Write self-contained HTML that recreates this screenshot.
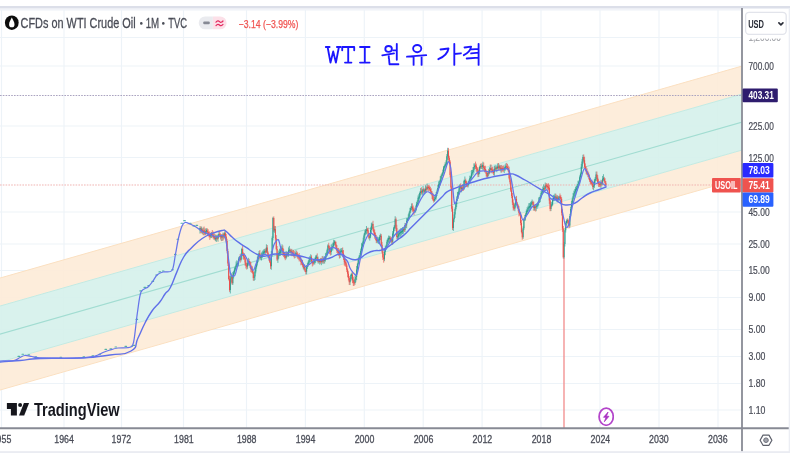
<!DOCTYPE html>
<html><head><meta charset="utf-8"><title>WTI</title>
<style>
html,body{margin:0;padding:0;background:#fff;}
body{width:790px;height:453px;overflow:hidden;font-family:"Liberation Sans",sans-serif;}
svg{display:block;position:absolute;left:0;top:0;}
text{font-family:"Liberation Sans",sans-serif;}
</style></head><body>
<svg width="790" height="453" viewBox="0 0 790 453">
<defs><filter id="soft" x="-2%" y="-2%" width="104%" height="104%"><feGaussianBlur stdDeviation="0.55"/></filter>
<filter id="soft2" x="-2%" y="-2%" width="104%" height="104%"><feGaussianBlur stdDeviation="0.7"/></filter>
<clipPath id="plot"><rect x="0" y="8" width="742" height="420"/></clipPath></defs>
<rect x="0" y="0" width="790" height="453" fill="#fff"/>
<rect x="0" y="6" width="790" height="2.6" fill="#dcdfe9"/>
<rect x="0" y="8.6" width="790" height="2" fill="#f1f3f8"/>
<rect x="0" y="451.2" width="790" height="1.8" fill="#eaecf2"/>
<g filter="url(#soft)">
<g stroke="#edf3f8" stroke-width="1.15" fill="none">
<path d="M1.5,10V428"/>
<path d="M64,10V428"/>
<path d="M121.5,10V428"/>
<path d="M183.5,10V428"/>
<path d="M246.5,10V428"/>
<path d="M305.4,10V428"/>
<path d="M364.3,10V428"/>
<path d="M423.2,10V428"/>
<path d="M482.1,10V428"/>
<path d="M541,10V428"/>
<path d="M600,10V428"/>
<path d="M659,10V428"/>
<path d="M718,10V428"/>
<path d="M0,37.5H742"/>
<path d="M0,66H742"/>
<path d="M0,126H742"/>
<path d="M0,157.5H742"/>
<path d="M0,212H742"/>
<path d="M0,244H742"/>
<path d="M0,270.5H742"/>
<path d="M0,297.5H742"/>
<path d="M0,329.5H742"/>
<path d="M0,356.5H742"/>
<path d="M0,383.5H742"/>
<path d="M0,410H742"/>
</g>
<g clip-path="url(#plot)">
<polygon points="-10,280.9 752,63.2 752,91.2 -10,308.9" fill="#fdebd8" fill-opacity="0.92"/>
<polygon points="-10,364.9 752,147.2 752,175.2 -10,392.9" fill="#fdebd8" fill-opacity="0.92"/>
<polygon points="-10,308.9 752,91.2 752,147.2 -10,364.9" fill="#d6f1ec" fill-opacity="0.92"/>
<path d="M-10,280.9L752,63.2" stroke="#fbe0c1" stroke-width="1.0" fill="none"/>
<path d="M-10,392.9L752,175.2" stroke="#fbe0c1" stroke-width="1.0" fill="none"/>
<path d="M-10,308.9L752,91.2" stroke="#c3eae2" stroke-width="1.0" fill="none"/>
<path d="M-10,364.9L752,147.2" stroke="#c3eae2" stroke-width="1.0" fill="none"/>
<path d="M-10,336.9L752,119.2" stroke="#a2ddd2" stroke-width="1.15" fill="none"/>
</g>
<path d="M0,95.5H742" stroke="#aaa3c0" stroke-width="1.15" stroke-dasharray="1.6 1.2" fill="none"/>
<path d="M0,185H742" stroke="#efb0ae" stroke-width="0.95" stroke-dasharray="1.6 1.2" fill="none"/>
</g>
<g filter="url(#soft2)" clip-path="url(#plot)" fill="none" stroke-linejoin="round" stroke-linecap="round">
<path d="M564,258V428" stroke="#f28b8b" stroke-width="1.3"/>
<path d="M18.0,356.4h1.6M22.0,354.2h1.6M28.0,354.9h1.6M35.0,356.9h1.6M60.0,357.2h1.6M83.0,356.9h1.6M92.0,355.9h1.6M99.0,354.2h1.6M105.0,349.4h1.6M110.0,348.9h1.6M115.0,347.0h1.6M125.0,346.4h1.6M131.0,346.2h1.6M133.0,345.4h1.6M136.0,319.4h1.6M139.9,290.9h1.6M144.0,287.4h1.6M147.9,285.6h1.6M152.0,281.4h1.6M155.8,275.0h1.6M159.0,271.9h1.6M162.4,271.0h1.6M171.7,269.7h1.6M174.5,254.4h1.6M177.0,239.2h1.6M181.0,223.3h1.6M183.7,220.6h1.6M189.5,223.3h1.6M193.0,225.9h1.6M196.0,225.4h1.6M199.6,228.6h1.6" stroke="#3aa79a" stroke-width="1.1" opacity="0.85"/>
<path d="M200.00,226.5V233.2M201.64,227.0V233.0M203.28,227.9V234.8M205.74,228.9V234.6M206.56,228.7V232.6M210.66,233.3V237.8M211.48,232.4V237.6M213.94,232.9V239.4M215.58,235.1V240.8M216.40,235.2V241.5M218.04,234.3V241.4M218.86,231.8V237.4M221.32,234.6V240.7M222.96,233.0V240.3M224.60,231.8V238.0M230.34,276.0V293.1M231.16,273.3V281.5M232.80,272.3V284.6M233.62,271.2V278.1M234.44,268.0V273.8M235.26,266.5V270.9M236.08,261.9V269.7M236.90,260.6V266.4M237.72,261.6V266.5M238.54,257.7V265.4M239.36,256.4V260.8M241.00,253.7V261.0M241.82,248.2V258.9M247.56,260.3V268.4M248.38,258.2V265.3M254.12,275.2V280.6M254.94,269.1V279.6M255.76,266.2V272.9M256.58,261.9V268.2M257.40,257.0V265.1M258.22,254.0V261.8M259.04,251.4V258.3M260.68,254.8V259.1M261.50,252.9V260.1M262.32,251.6V257.7M263.14,250.5V256.3M263.96,249.5V255.2M264.78,249.2V255.2M266.42,244.7V252.6M271.34,251.4V269.4M272.16,236.7V256.1M272.98,217.2V239.9M274.62,226.3V232.4M277.90,253.1V262.5M278.72,250.9V258.3M279.54,249.1V255.7M280.36,249.0V255.5M281.18,246.6V253.1M282.00,244.7V252.5M286.10,251.3V258.8M287.74,252.3V256.2M288.56,247.8V256.3M289.38,246.3V252.9M291.02,249.3V254.9M295.12,252.7V257.7M295.94,250.6V255.3M304.14,264.4V270.0M306.60,265.4V273.9M307.42,263.3V268.4M308.24,261.1V266.3M309.06,257.5V264.3M309.88,256.3V263.0M310.70,254.7V261.6M313.98,259.7V264.0M314.80,258.0V264.1M315.62,255.8V262.5M316.44,255.2V260.5M318.08,257.0V263.2M319.72,259.6V264.2M321.36,258.4V264.8M323.00,256.3V263.7M324.64,256.6V263.2M325.46,253.5V261.2M326.28,252.7V258.8M327.10,249.1V256.0M327.92,244.7V253.3M331.20,245.0V254.5M332.02,244.2V250.3M332.84,243.0V250.0M333.66,240.2V247.7M334.48,240.6V244.8M340.22,249.1V257.6M341.04,248.7V253.0M341.86,248.4V252.8M350.06,277.9V284.7M350.88,274.1V280.8M351.70,272.9V278.3M354.98,276.3V284.4M355.80,274.0V281.9M356.62,266.4V279.8M357.44,263.2V271.8M358.26,258.3V265.2M359.08,255.8V261.4M359.90,253.3V258.3M360.72,249.0V257.9M361.54,243.5V253.9M362.36,242.6V247.8M363.18,238.1V246.2M364.00,233.9V243.2M364.82,230.6V237.7M365.64,229.4V234.2M366.46,226.4V233.9M369.74,234.2V240.2M370.56,227.9V237.8M371.38,223.2V232.7M372.20,222.8V228.5M377.12,237.0V242.5M377.94,237.3V243.1M378.76,237.9V243.7M379.58,235.6V242.6M380.40,234.0V239.7M384.50,249.1V260.8M385.32,246.1V254.8M386.14,245.0V249.6M386.96,240.1V248.2M387.78,238.1V243.9M388.60,236.0V242.5M389.42,236.2V241.7M391.06,237.1V243.0M392.70,231.5V244.4M393.52,227.6V236.2M394.34,225.4V230.9M395.16,216.6V228.7M397.62,232.7V239.9M398.44,232.1V238.9M399.26,230.0V236.3M400.08,229.7V236.5M400.90,228.4V235.8M401.72,228.5V234.5M402.54,227.5V233.7M403.36,228.0V233.3M405.00,223.3V231.5M406.64,218.5V227.9M407.46,218.4V222.8M408.28,214.8V220.3M409.10,212.0V219.1M409.92,208.2V215.5M410.74,206.7V212.2M411.56,203.8V209.6M414.84,208.9V212.7M415.66,205.9V212.1M416.48,202.2V210.1M417.30,200.6V206.0M418.12,195.8V205.0M418.94,194.3V200.7M419.76,191.9V199.1M420.58,188.5V195.1M422.22,189.7V195.1M423.04,186.4V194.1M424.68,189.2V193.8M425.50,185.7V192.8M427.14,184.0V190.1M434.52,197.1V201.4M435.34,194.7V200.3M436.16,192.5V199.2M436.98,189.9V195.6M437.80,185.5V192.8M438.62,181.8V189.5M439.44,181.2V187.5M440.26,176.6V185.0M441.08,174.9V181.8M441.90,173.2V177.8M442.72,170.0V175.7M443.54,166.5V173.3M444.36,165.1V170.7M445.18,162.6V168.5M446.00,160.7V166.8M446.82,154.5V164.7M447.64,148.2V159.5M453.38,218.1V230.5M454.20,212.4V221.8M455.02,207.8V217.5M455.84,202.9V210.1M456.66,196.8V206.7M457.48,192.4V200.6M458.30,191.1V198.5M459.12,185.2V194.3M459.94,184.7V189.8M461.58,186.4V191.9M464.04,180.1V189.6M464.86,176.9V184.7M468.14,181.7V187.0M468.96,180.0V184.9M469.78,176.1V182.9M470.60,176.1V181.0M471.42,170.5V179.6M472.24,170.2V175.9M473.06,167.4V174.6M473.88,163.8V172.9M474.70,163.8V169.0M478.80,170.1V176.6M479.62,166.0V173.5M480.44,164.2V168.4M482.08,163.9V168.6M482.90,162.1V169.8M487.82,171.2V177.5M489.46,167.7V173.9M490.28,165.0V171.4M494.38,166.3V175.4M495.20,165.5V170.6M496.84,165.7V171.8M497.66,163.8V169.1M499.30,164.9V169.3M500.94,165.6V172.2M504.22,167.0V172.7M505.04,165.0V170.7M505.86,163.8V169.2M514.88,203.2V210.8M515.70,197.1V207.0M523.08,226.8V238.5M523.90,218.3V229.7M524.72,215.3V220.6M525.54,213.6V220.1M526.36,209.8V215.8M527.18,207.5V214.6M528.00,206.1V212.7M528.82,203.6V209.2M529.64,203.5V210.9M530.46,202.5V209.3M531.28,201.4V207.4M532.10,199.9V204.8M534.56,205.2V210.3M536.20,204.4V210.8M537.02,204.1V208.4M537.84,202.0V207.0M538.66,197.8V205.1M539.48,197.2V202.5M540.30,195.3V201.8M541.12,191.4V198.3M541.94,190.5V194.6M542.76,187.0V193.5M543.58,184.8V192.0M545.22,182.9V190.5M550.96,202.7V210.7M551.78,202.2V206.7M552.60,198.6V205.3M553.42,195.5V200.8M554.24,195.0V200.5M555.06,193.8V199.3M556.70,195.7V201.3M558.34,196.4V201.2M559.16,196.0V199.5M564.08,242.4V258.1M564.90,228.7V246.1M565.72,221.7V232.1M566.54,219.8V225.3M567.36,218.8V223.1M569.82,214.2V227.2M570.64,207.2V216.9M571.46,201.3V210.9M572.28,198.0V204.4M573.10,193.3V201.6M573.92,191.0V197.4M574.74,189.3V196.5M575.56,187.2V194.6M576.38,186.0V192.2M577.20,184.2V190.3M578.02,181.2V187.7M578.84,180.8V185.3M579.66,175.8V183.4M580.48,172.9V178.6M581.30,164.3V175.4M582.12,159.3V168.5M582.94,155.1V163.8M593.60,182.5V189.9M594.42,179.2V187.5M595.24,177.4V183.2M596.06,172.0V180.8M600.98,180.2V187.9M602.62,176.4V184.5M603.44,174.6V180.3" stroke="#2c9c8e" stroke-width="0.7" opacity="0.95"/>
<path d="M200.82,226.9V232.7M202.46,228.7V233.8M204.10,226.9V234.8M204.92,228.8V234.9M207.38,228.8V235.1M208.20,229.7V235.7M209.02,231.8V237.0M209.84,231.9V239.5M212.30,230.4V236.5M213.12,231.8V238.2M214.76,234.2V239.9M217.22,235.9V240.0M219.68,231.2V236.4M220.50,233.8V239.1M222.14,234.5V240.6M223.78,233.2V239.1M225.42,231.8V237.4M226.24,234.3V242.3M227.06,239.2V253.0M227.88,249.2V265.6M228.70,262.2V280.1M229.52,276.2V291.4M231.98,274.6V284.2M240.18,254.5V262.3M242.64,245.9V255.8M243.46,252.9V259.2M244.28,253.4V259.2M245.10,255.6V265.4M245.92,259.9V268.1M246.74,263.6V269.2M249.20,259.2V264.7M250.02,261.4V267.7M250.84,262.5V271.7M251.66,266.0V272.4M252.48,266.8V273.3M253.30,271.4V280.3M259.86,250.4V259.1M265.60,248.8V253.3M267.24,245.4V254.2M268.06,251.8V256.9M268.88,255.0V260.3M269.70,256.4V262.7M270.52,259.9V268.6M273.80,216.8V231.6M275.44,226.4V240.3M276.26,235.5V249.9M277.08,246.4V260.6M282.82,245.8V255.2M283.64,249.3V256.7M284.46,252.6V258.1M285.28,253.6V259.8M286.92,252.5V256.9M290.20,249.0V253.1M291.84,249.3V255.8M292.66,250.8V255.7M293.48,250.4V256.3M294.30,251.3V258.1M296.76,251.2V257.0M297.58,252.6V258.3M298.40,254.5V259.2M299.22,253.4V261.1M300.04,255.9V260.5M300.86,256.6V264.9M301.68,260.3V264.7M302.50,260.2V266.3M303.32,264.3V269.0M304.96,265.3V271.6M305.78,269.3V274.0M311.52,255.7V262.9M312.34,260.0V266.1M313.16,261.0V265.1M317.26,253.8V261.5M318.90,259.1V262.9M320.54,258.3V263.3M322.18,256.6V262.8M323.82,257.8V262.9M328.74,243.1V250.8M329.56,246.1V253.5M330.38,247.6V255.1M335.30,241.1V246.1M336.12,242.1V249.2M336.94,245.5V252.6M337.76,248.5V254.3M338.58,248.3V255.4M339.40,250.0V258.2M342.68,247.8V255.6M343.50,250.4V259.6M344.32,255.1V265.1M345.14,259.4V265.9M345.96,259.5V266.6M346.78,264.2V271.7M347.60,268.7V276.8M348.42,271.6V280.1M349.24,276.4V284.6M352.52,271.9V282.8M353.34,277.1V285.6M354.16,279.0V285.4M367.28,228.3V232.3M368.10,228.0V235.8M368.92,233.8V238.8M373.02,221.2V230.8M373.84,228.1V235.0M374.66,229.9V238.3M375.48,233.0V239.7M376.30,235.3V242.8M381.22,234.3V246.0M382.04,242.3V253.2M382.86,249.0V259.6M383.68,254.4V262.3M390.24,236.6V241.0M391.88,237.5V244.4M395.98,217.9V230.5M396.80,225.2V238.7M404.18,227.2V231.7M405.82,223.4V227.5M412.38,203.7V211.3M413.20,205.9V213.4M414.02,207.8V214.7M421.40,187.7V194.0M423.86,188.2V192.9M426.32,186.7V192.5M427.96,185.2V190.2M428.78,185.7V191.3M429.60,186.1V190.3M430.42,187.2V193.7M431.24,188.7V194.4M432.06,191.5V198.7M432.88,193.2V200.3M433.70,196.7V202.2M448.46,148.3V160.0M449.28,156.2V163.3M450.10,160.6V176.7M450.92,172.3V190.2M451.74,186.2V211.3M452.56,206.5V229.7M460.76,183.7V191.2M462.40,184.6V190.6M463.22,185.0V190.6M465.68,179.1V185.4M466.50,181.1V186.6M467.32,183.1V186.8M475.52,162.0V168.7M476.34,164.0V171.5M477.16,167.6V172.8M477.98,167.7V176.7M481.26,163.7V168.7M483.72,162.9V169.7M484.54,166.4V171.9M485.36,166.1V172.1M486.18,170.0V176.2M487.00,173.3V177.9M488.64,169.3V175.4M491.10,164.9V172.9M491.92,167.7V172.1M492.74,167.0V173.2M493.56,169.6V174.8M496.02,166.7V170.2M498.48,163.4V169.9M500.12,165.3V170.4M501.76,165.3V172.2M502.58,166.5V171.0M503.40,165.8V171.3M506.68,163.3V168.6M507.50,164.3V169.9M508.32,166.0V171.6M509.14,167.1V179.1M509.96,175.6V183.9M510.78,180.2V191.6M511.60,188.0V197.8M512.42,193.4V204.6M513.24,199.7V210.1M514.06,204.2V210.1M516.52,196.3V205.0M517.34,202.3V207.8M518.16,204.7V211.0M518.98,206.6V216.0M519.80,211.8V215.4M520.62,212.5V224.9M521.44,220.4V233.0M522.26,229.9V239.4M532.92,201.1V205.4M533.74,201.9V210.4M535.38,204.5V211.1M544.40,186.6V191.2M546.04,183.9V187.6M546.86,183.4V189.8M547.68,184.5V189.2M548.50,183.7V190.0M549.32,185.3V203.5M550.14,199.0V210.8M555.88,194.2V199.6M557.52,195.7V201.9M559.98,193.9V200.4M560.80,195.4V201.4M561.62,197.7V215.1M562.44,209.6V231.5M563.26,226.3V258.2M568.18,219.1V225.5M569.00,221.2V228.0M583.76,154.8V162.4M584.58,157.1V168.4M585.40,163.8V170.8M586.22,166.8V173.9M587.04,168.7V174.8M587.86,171.1V176.8M588.68,172.7V179.0M589.50,175.0V181.3M590.32,178.7V184.1M591.14,180.7V184.2M591.96,180.1V185.3M592.78,181.4V188.9M596.88,171.9V180.5M597.70,175.5V183.8M598.52,179.7V186.4M599.34,182.3V186.7M600.16,182.6V186.8M601.80,180.7V185.8M604.26,177.3V182.0M605.08,178.6V186.4M605.90,181.6V185.9" stroke="#e4504c" stroke-width="0.7" opacity="0.95"/>
<path d="M200.00,230.2V228.6M201.64,230.7V229.1M203.28,232.3V230.7M205.74,233.7V231.0M206.56,231.7V230.1M210.66,236.4V234.8M211.48,235.0V233.3M213.94,237.5V235.9M215.58,239.4V237.8M216.40,238.4V236.8M218.04,238.7V235.3M218.86,235.5V233.9M221.32,237.6V236.0M222.96,237.4V234.8M224.60,235.4V233.3M230.34,290.0V278.5M231.16,278.5V276.4M232.80,283.2V275.4M233.62,275.4V272.6M234.44,272.6V269.5M235.26,269.5V267.5M236.08,267.5V264.7M236.90,265.2V263.6M237.72,264.6V263.0M238.54,263.7V259.0M239.36,259.1V257.5M241.00,259.9V255.9M241.82,255.9V249.0M247.56,266.6V263.2M248.38,263.2V261.1M254.12,278.1V276.5M254.94,276.6V271.4M255.76,271.4V267.0M256.58,267.0V263.2M257.40,263.2V259.4M258.22,259.4V255.6M259.04,255.6V253.3M260.68,258.0V256.4M261.50,257.3V255.7M262.32,256.3V254.7M263.14,254.9V252.4M263.96,252.9V251.3M264.78,252.4V250.8M266.42,251.7V247.6M271.34,266.3V254.2M272.16,254.2V238.0M272.98,238.0V218.0M274.62,230.4V228.8M277.90,259.5V255.4M278.72,255.4V253.0M279.54,253.8V252.2M280.36,252.9V250.3M281.18,250.5V248.9M282.00,249.3V247.7M286.10,257.8V254.0M287.74,255.1V253.5M288.56,253.5V250.3M289.38,251.0V249.4M291.02,252.4V250.8M295.12,255.6V254.0M295.94,254.4V252.8M304.14,268.5V266.9M306.60,271.8V266.7M307.42,266.7V265.0M308.24,265.0V262.2M309.06,262.2V259.9M309.88,260.1V258.5M310.70,258.9V257.3M313.98,262.9V261.1M314.80,261.4V259.8M315.62,260.1V257.6M316.44,258.1V256.5M318.08,261.2V259.6M319.72,262.1V260.5M321.36,262.0V259.7M323.00,261.8V259.3M324.64,260.9V258.4M325.46,258.4V255.9M326.28,256.2V254.6M327.10,254.8V250.3M327.92,250.3V245.6M331.20,251.9V248.0M332.02,248.6V247.0M332.84,247.5V245.9M333.66,245.9V242.8M334.48,243.2V241.6M340.22,255.0V251.4M341.04,252.1V250.5M341.86,251.8V250.2M350.06,282.2V279.4M350.88,279.4V274.9M351.70,275.7V274.1M354.98,283.0V279.4M355.80,279.4V277.1M356.62,277.1V269.5M357.44,269.5V264.3M358.26,264.3V259.5M359.08,259.5V256.9M359.90,256.9V255.2M360.72,255.2V250.8M361.54,250.8V246.7M362.36,246.7V243.9M363.18,243.9V240.8M364.00,240.8V235.4M364.82,235.4V232.8M365.64,232.8V230.6M366.46,231.0V229.4M369.74,237.9V236.3M370.56,236.5V229.9M371.38,229.9V225.8M372.20,225.8V223.9M377.12,241.5V239.9M377.94,241.1V239.5M378.76,241.0V239.4M379.58,240.2V236.9M380.40,237.1V235.5M384.50,259.3V251.8M385.32,251.8V247.9M386.14,248.0V246.4M386.96,246.4V241.8M387.78,241.8V239.4M388.60,239.7V238.1M389.42,239.1V237.5M391.06,240.8V239.2M392.70,241.7V233.6M393.52,233.6V228.6M394.34,228.6V226.4M395.16,226.4V219.2M397.62,237.5V235.9M398.44,236.4V234.2M399.26,234.6V233.0M400.08,233.7V232.1M400.90,232.9V231.3M401.72,232.5V230.9M402.54,231.9V230.3M403.36,230.7V229.1M405.00,230.0V225.1M406.64,225.3V220.8M407.46,220.9V219.3M408.28,219.4V217.8M409.10,217.8V213.2M409.92,213.2V210.8M410.74,210.8V208.0M411.56,208.0V206.4M414.84,211.8V210.2M415.66,210.4V208.6M416.48,208.6V204.3M417.30,204.6V203.0M418.12,203.3V197.8M418.94,198.4V196.8M419.76,197.5V193.0M420.58,193.0V191.4M422.22,192.4V190.8M423.04,191.3V189.2M424.68,191.8V190.2M425.50,190.6V188.8M427.14,189.1V187.0M434.52,200.6V199.0M435.34,199.0V197.4M436.16,197.5V194.0M436.98,194.0V191.4M437.80,191.4V187.9M438.62,187.9V184.3M439.44,185.0V183.4M440.26,184.0V179.4M441.08,179.4V175.9M441.90,176.1V174.5M442.72,174.7V172.2M443.54,172.2V167.6M444.36,167.7V166.1M445.18,166.2V164.6M446.00,165.1V163.5M446.82,163.9V156.3M447.64,156.3V150.7M453.38,228.0V219.3M454.20,219.3V214.4M455.02,214.4V209.1M455.84,209.1V204.2M456.66,204.2V198.9M457.48,198.9V195.4M458.30,195.4V192.2M459.12,192.2V188.2M459.94,188.4V186.8M461.58,189.1V187.5M464.04,188.7V181.1M464.86,181.7V180.1M468.14,185.3V182.9M468.96,182.9V181.3M469.78,181.3V178.3M470.60,178.6V177.0M471.42,177.4V173.6M472.24,173.6V172.0M473.06,172.0V170.1M473.88,170.1V167.0M474.70,167.2V165.6M478.80,174.4V171.6M479.62,171.6V167.1M480.44,167.5V165.9M482.08,167.2V165.6M482.90,166.7V165.1M487.82,176.5V172.8M489.46,173.0V169.9M490.28,169.9V168.0M494.38,172.2V169.2M495.20,169.4V167.8M496.84,168.9V167.3M497.66,168.0V166.4M499.30,167.8V166.2M500.94,169.5V167.9M504.22,169.6V168.0M505.04,168.6V167.0M505.86,167.7V166.1M514.88,208.5V204.4M515.70,204.4V199.0M523.08,237.3V228.2M523.90,228.2V219.2M524.72,219.2V217.4M525.54,217.4V214.7M526.36,214.7V211.2M527.18,211.9V210.3M528.00,211.0V207.9M528.82,208.3V206.7M529.64,207.7V206.1M530.46,206.8V204.4M531.28,204.4V202.8M532.10,203.3V201.7M534.56,208.2V206.6M536.20,207.6V206.0M537.02,206.6V205.0M537.84,205.4V202.9M538.66,202.9V200.7M539.48,200.7V199.1M540.30,199.2V197.0M541.12,197.0V193.0M541.94,193.3V191.7M542.76,192.0V189.0M543.58,189.6V188.0M545.22,188.8V185.4M550.96,209.1V205.6M551.78,205.8V204.2M552.60,204.4V199.9M553.42,199.9V197.8M554.24,198.4V196.8M555.06,197.8V196.2M556.70,198.8V197.2M558.34,199.5V197.9M559.16,198.6V196.9M564.08,257.2V244.1M564.90,244.1V230.3M565.72,230.3V222.9M566.54,222.9V221.0M567.36,221.5V219.9M569.82,225.5V215.9M570.64,215.9V208.9M571.46,208.9V203.5M572.28,203.5V199.4M573.10,199.4V196.2M573.92,196.2V193.4M574.74,193.4V191.6M575.56,191.6V189.3M576.38,189.9V188.3M577.20,188.9V186.0M578.02,186.0V184.1M578.84,184.1V181.7M579.66,181.7V177.3M580.48,177.3V174.0M581.30,174.0V166.7M582.12,166.7V161.4M582.94,161.4V157.1M593.60,187.0V185.4M594.42,185.5V180.6M595.24,180.7V179.1M596.06,179.3V174.5M600.98,184.8V182.4M602.62,182.8V178.7M603.44,179.4V177.8" stroke="#2b9c8e" stroke-width="1.05" stroke-linecap="butt"/>
<path d="M200.82,228.9V230.5M202.46,229.7V232.3M204.10,230.1V231.7M204.92,231.1V233.7M207.38,230.7V232.3M208.20,232.0V233.7M209.02,233.7V235.5M209.84,235.1V236.7M212.30,233.2V234.8M213.12,234.6V237.4M214.76,236.0V238.9M217.22,237.0V238.7M219.68,233.7V235.3M220.50,234.9V237.3M222.14,236.1V237.7M223.78,234.3V235.9M225.42,233.3V236.4M226.24,236.4V240.9M227.06,240.9V251.1M227.88,251.1V263.4M228.70,263.4V278.9M229.52,278.9V290.0M231.98,276.4V283.2M240.18,257.6V259.9M242.64,249.0V254.9M243.46,254.9V256.6M244.28,256.6V258.2M245.10,258.1V262.4M245.92,262.4V265.4M246.74,265.2V266.8M249.20,260.9V262.5M250.02,262.4V265.4M250.84,265.4V269.2M251.66,268.6V270.2M252.48,269.6V272.3M253.30,272.3V278.1M259.86,253.3V257.4M265.60,250.7V252.3M267.24,247.6V252.7M268.06,252.7V255.8M268.88,255.8V257.5M269.70,257.5V261.8M270.52,261.8V266.3M273.80,218.0V230.2M275.44,229.0V238.5M276.26,238.5V248.9M277.08,248.9V259.5M282.82,247.9V252.5M283.64,252.2V253.8M284.46,253.6V256.2M285.28,256.2V257.8M286.92,253.7V255.3M290.20,250.0V251.7M291.84,251.3V252.9M292.66,252.3V253.9M293.48,253.4V255.0M294.30,254.4V256.0M296.76,253.2V255.3M297.58,254.7V256.3M298.40,255.5V257.1M299.22,256.5V258.1M300.04,257.8V259.4M300.86,259.4V262.0M301.68,261.8V263.4M302.50,263.2V265.1M303.32,265.1V267.8M304.96,267.6V270.6M305.78,270.4V272.0M311.52,257.3V261.3M312.34,261.3V262.9M313.16,262.1V263.7M317.26,257.0V260.4M318.90,260.3V261.9M320.54,260.5V262.1M322.18,259.7V261.8M323.82,259.3V260.9M328.74,245.6V247.9M329.56,247.9V251.3M330.38,250.8V252.4M335.30,241.9V244.4M336.12,244.4V247.9M336.94,247.9V251.0M337.76,250.7V252.3M338.58,251.5V253.1M339.40,252.6V255.0M342.68,250.8V253.5M343.50,253.5V257.4M344.32,257.4V262.3M345.14,261.6V263.2M345.96,262.5V265.4M346.78,265.4V269.7M347.60,269.7V273.7M348.42,273.7V277.9M349.24,277.9V282.2M352.52,274.9V280.2M353.34,280.2V282.5M354.16,282.0V283.6M367.28,229.3V230.9M368.10,230.3V234.7M368.92,234.7V237.8M373.02,223.9V229.5M373.84,229.5V232.3M374.66,232.3V235.1M375.48,235.1V237.1M376.30,237.1V241.1M381.22,235.8V244.8M382.04,244.8V251.5M382.86,251.5V257.4M383.68,257.4V259.3M390.24,238.0V240.1M391.88,239.9V241.7M395.98,219.2V227.9M396.80,227.9V237.0M404.18,228.9V230.5M405.82,224.4V226.0M412.38,206.5V209.3M413.20,208.8V210.4M414.02,209.9V211.6M421.40,190.9V192.5M423.86,189.2V191.4M426.32,188.2V189.8M427.96,186.5V188.1M428.78,186.9V188.5M429.60,187.7V189.3M430.42,189.2V191.2M431.24,191.2V193.4M432.06,193.4V195.5M432.88,195.5V199.5M433.70,199.2V200.8M448.46,150.7V157.8M449.28,157.8V161.7M450.10,161.7V175.0M450.92,175.0V187.4M451.74,187.4V208.7M452.56,208.7V228.0M460.76,186.9V188.5M462.40,187.6V189.2M463.22,187.8V189.4M465.68,180.7V183.0M466.50,182.8V184.4M467.32,183.9V185.5M475.52,165.0V166.6M476.34,165.8V168.5M477.16,168.5V170.3M477.98,170.3V174.4M481.26,165.7V167.3M483.72,165.7V167.9M484.54,167.7V169.3M485.36,169.1V171.1M486.18,171.1V174.1M487.00,174.1V176.5M488.64,172.1V173.7M491.10,168.0V169.7M491.92,169.0V170.6M492.74,169.9V171.9M493.56,171.3V172.9M496.02,167.6V169.2M498.48,166.4V168.0M500.12,166.5V169.2M501.76,167.7V169.3M502.58,167.9V169.5M503.40,168.2V169.8M506.68,166.0V167.6M507.50,166.9V168.5M508.32,168.2V170.3M509.14,170.3V178.2M509.96,178.2V182.2M510.78,182.2V190.4M511.60,190.4V196.1M512.42,196.1V202.5M513.24,202.5V207.7M514.06,207.3V208.9M516.52,199.0V203.6M517.34,203.6V205.6M518.16,205.6V208.7M518.98,208.7V213.1M519.80,212.9V214.5M520.62,214.4V223.1M521.44,223.1V232.0M522.26,232.0V237.3M532.92,202.1V204.5M533.74,204.5V207.9M535.38,206.4V208.0M544.40,187.9V189.5M546.04,184.8V186.4M546.86,185.2V186.8M547.68,185.9V187.5M548.50,186.8V188.4M549.32,187.8V200.6M550.14,200.6V209.1M555.88,196.6V198.4M557.52,197.4V199.0M559.98,196.1V197.7M560.80,196.9V199.0M561.62,199.0V212.7M562.44,212.7V228.6M563.26,228.6V257.2M568.18,220.3V223.3M569.00,223.3V225.5M583.76,157.1V160.2M584.58,160.2V166.8M585.40,166.8V169.3M586.22,169.3V171.5M587.04,171.5V173.6M587.86,173.1V174.7M588.68,174.2V176.4M589.50,176.4V179.9M590.32,179.9V182.1M591.14,181.6V183.2M591.96,182.6V184.2M592.78,184.1V186.9M596.88,174.5V177.7M597.70,177.7V182.0M598.52,182.0V183.6M599.34,183.4V185.0M600.16,184.0V185.6M601.80,181.8V183.4M604.26,178.4V181.1M605.08,181.1V183.2M605.90,183.2V185.1" stroke="#ea4f4b" stroke-width="1.05" stroke-linecap="butt"/>
<path d="M0.0,362.0C5.3,361.6 9.3,361.4 20.0,360.5C30.7,359.6 24.0,359.2 40.0,358.5C56.0,357.8 61.3,358.9 80.0,358.0C98.7,357.1 96.4,356.9 110.0,355.0C123.6,353.1 123.5,355.5 131.0,351.0C138.5,346.5 134.3,345.5 138.0,338.0C141.7,330.5 141.3,330.2 145.0,323.0C148.7,315.8 148.1,316.6 152.0,311.0C155.9,305.4 156.3,306.5 159.8,302.0C163.3,297.5 162.2,297.9 165.0,294.0C167.8,290.1 167.2,293.5 170.4,287.5C173.6,281.5 173.5,279.7 177.0,271.6C180.5,263.5 179.8,263.4 183.7,257.0C187.6,250.6 186.7,252.6 191.6,247.7C196.5,242.8 196.5,242.4 202.2,238.5C207.9,234.6 207.5,235.3 212.8,233.2C218.1,231.1 218.5,231.0 222.0,230.5C225.5,230.0 223.3,229.5 226.0,231.3C228.7,233.1 228.6,234.1 232.0,237.1C235.4,240.1 234.7,239.6 238.6,242.4C242.5,245.2 242.3,244.9 246.5,247.7C250.7,250.5 250.3,250.7 254.5,253.0C258.7,255.3 258.5,255.6 262.4,256.2C266.3,256.8 265.7,255.8 269.1,255.2C272.5,254.6 271.3,254.2 275.0,254.0C278.7,253.8 278.5,254.2 283.0,254.5C287.5,254.8 287.5,254.6 292.0,255.0C296.5,255.4 295.2,255.1 300.0,256.0C304.8,256.9 304.7,257.4 310.0,258.5C315.3,259.6 314.7,260.1 320.0,260.0C325.3,259.9 324.7,259.6 330.0,258.0C335.3,256.4 335.3,254.1 340.0,254.0C344.7,253.9 343.0,256.1 347.5,257.6C352.0,259.1 351.9,260.5 356.9,259.5C361.9,258.5 361.8,256.2 366.3,253.9C370.8,251.6 369.8,251.9 373.8,250.9C377.8,249.9 377.3,251.3 381.3,250.1C385.3,248.9 384.8,248.9 388.8,246.4C392.8,243.9 392.3,243.7 396.3,240.7C400.3,237.7 399.8,238.6 403.8,235.1C407.8,231.6 407.3,231.6 411.3,227.6C415.3,223.6 414.8,224.1 418.8,220.1C422.8,216.1 422.3,216.6 426.3,212.6C430.3,208.6 429.8,209.1 433.8,205.1C437.8,201.1 437.9,201.1 441.4,197.6C444.9,194.1 444.0,194.1 447.0,191.9C450.0,189.7 449.1,190.8 452.6,189.3C456.1,187.8 455.5,188.0 460.1,186.3C464.7,184.6 464.7,184.7 470.0,183.0C475.3,181.3 474.7,181.5 480.0,180.0C485.3,178.5 484.7,178.7 490.0,177.5C495.3,176.3 494.7,176.4 500.0,175.5C505.3,174.6 505.8,174.1 510.0,174.0C514.2,173.9 511.6,173.4 515.6,175.0C519.6,176.6 519.8,177.1 525.0,180.0C530.2,182.9 529.7,182.8 535.0,186.0C540.3,189.2 540.5,189.3 545.0,192.0C549.5,194.7 548.0,193.1 552.0,196.0C556.0,198.9 556.0,200.6 560.0,203.0C564.0,205.4 563.0,205.0 567.0,205.0C571.0,205.0 571.0,204.9 575.0,203.0C579.0,201.1 578.0,200.7 582.0,198.0C586.0,195.3 585.7,195.1 590.0,193.0C594.3,190.9 593.7,191.6 598.0,190.0C602.3,188.4 603.9,187.8 606.0,187.0" stroke="#5f6fe9" stroke-width="1.4"/>
<path d="M0.0,361.0C2.1,360.9 11.0,361.0 14.0,360.5C17.0,360.0 18.4,358.2 20.0,357.5C21.6,356.8 23.2,355.6 25.0,355.5C26.8,355.4 29.8,356.2 32.0,356.5C34.2,356.8 32.4,357.6 40.0,357.8C47.6,358.0 74.8,358.1 83.0,357.8C91.2,357.5 92.0,356.8 95.0,356.0C98.0,355.2 100.8,353.4 103.0,352.5C105.2,351.6 107.8,350.7 110.0,350.0C112.2,349.3 114.8,348.4 118.0,348.0C121.2,347.6 128.6,348.2 131.0,347.0C133.4,345.8 133.0,345.2 134.0,340.0C135.0,334.8 136.4,319.2 137.5,312.0C138.6,304.8 139.4,295.8 141.0,292.0C142.6,288.2 146.2,288.6 148.0,287.0C149.8,285.4 151.7,282.8 153.0,281.0C154.3,279.2 155.5,276.4 157.0,275.0C158.5,273.6 160.8,272.7 163.0,272.0C165.2,271.3 170.1,273.2 172.0,270.5C173.9,267.8 174.5,258.9 175.5,254.0C176.5,249.1 177.5,242.2 178.5,238.0C179.5,233.8 181.0,228.3 182.0,226.0C183.0,223.7 183.8,222.8 185.0,222.5C186.2,222.2 188.3,223.3 190.0,224.0C191.7,224.7 194.1,225.8 196.0,227.0C197.9,228.2 200.9,230.9 203.0,232.0C205.1,233.1 208.1,233.8 210.0,234.5C211.9,235.2 214.2,236.8 216.0,237.0C217.8,237.2 220.6,235.3 222.0,235.5C223.4,235.7 224.6,235.1 225.5,238.0C226.4,240.9 227.2,249.6 228.0,255.0C228.8,260.4 229.6,270.9 230.6,274.0C231.6,277.1 233.6,276.5 234.6,275.6C235.6,274.7 236.2,270.8 237.0,268.0C237.8,265.2 238.9,259.0 239.9,257.0C240.9,255.0 242.8,254.1 243.9,254.4C245.0,254.7 246.2,257.6 247.0,259.0C247.8,260.4 248.3,262.0 249.2,263.7C250.1,265.4 252.2,270.3 253.2,270.3C254.2,270.3 255.2,266.0 256.0,264.0C256.8,262.0 257.6,258.4 258.5,257.0C259.4,255.7 261.0,255.4 262.0,255.0C263.0,254.6 264.2,254.2 265.1,254.4C266.0,254.6 267.2,255.2 268.0,256.0C268.8,256.8 269.7,260.6 270.4,259.7C271.1,258.8 271.9,252.4 272.5,250.0C273.1,247.6 273.5,245.3 274.4,243.8C275.3,242.3 277.3,238.8 278.4,239.8C279.5,240.8 280.3,248.4 281.5,250.4C282.7,252.4 285.0,252.8 286.3,253.0C287.6,253.2 288.8,251.8 290.0,252.0C291.2,252.2 292.9,253.7 294.3,254.4C295.7,255.2 298.0,255.2 299.6,257.0C301.2,258.8 303.6,265.1 304.9,266.3C306.2,267.5 307.2,265.4 308.0,265.0C308.8,264.6 309.1,264.5 310.2,263.7C311.3,262.9 313.7,260.3 315.5,259.7C317.3,259.1 320.3,260.5 322.1,259.7C323.9,258.9 326.1,256.2 327.4,254.4C328.7,252.6 330.0,249.0 331.0,248.0C332.0,247.0 333.1,247.3 334.1,247.7C335.2,248.1 336.6,249.0 338.0,250.4C339.4,251.8 341.9,255.3 343.3,257.0C344.7,258.6 346.5,259.8 347.5,261.4C348.5,263.0 349.2,266.3 350.0,268.0C350.8,269.7 352.1,271.6 353.1,272.6C354.1,273.6 355.8,276.8 356.9,274.5C358.0,272.2 359.5,262.4 360.6,257.6C361.7,252.8 363.0,246.3 364.4,242.6C365.8,238.9 368.3,234.0 370.0,233.2C371.7,232.4 374.0,235.0 375.7,237.0C377.4,239.0 379.9,244.4 381.3,246.4C382.7,248.4 383.6,251.0 385.0,250.1C386.4,249.2 389.0,243.2 390.7,240.7C392.4,238.2 394.3,235.2 396.3,233.2C398.3,231.2 401.8,229.8 403.8,227.6C405.8,225.3 407.7,220.7 409.4,218.2C411.1,215.7 413.4,213.5 415.1,210.7C416.8,207.9 419.0,202.2 420.7,199.4C422.4,196.6 424.6,192.7 426.3,191.9C428.0,191.1 430.6,193.2 432.0,193.8C433.4,194.4 434.6,196.8 435.7,195.7C436.8,194.6 438.2,189.7 439.5,186.3C440.8,182.9 443.1,176.9 444.4,173.2C445.7,169.5 447.2,162.8 448.1,161.9C449.0,161.0 450.0,163.8 450.7,167.5C451.4,171.2 452.0,180.9 452.6,186.3C453.2,191.7 453.8,201.2 454.5,203.2C455.2,205.2 456.3,201.1 457.1,199.4C457.9,197.7 458.8,194.0 460.1,192.0C461.4,190.0 464.0,188.1 465.6,186.3C467.2,184.5 469.1,182.1 471.0,180.0C472.9,177.9 475.9,173.3 478.0,172.0C480.1,170.7 483.2,171.0 485.0,171.0C486.8,171.0 487.8,172.2 490.0,172.0C492.2,171.8 497.3,170.4 500.0,170.0C502.7,169.6 506.4,167.8 508.0,169.0C509.6,170.2 510.1,174.1 511.0,178.0C511.9,181.9 513.1,190.9 514.0,195.0C514.9,199.1 516.0,202.0 517.0,205.0C518.0,208.0 520.1,212.8 521.0,215.0C521.9,217.2 522.1,220.0 523.0,220.0C523.9,220.0 525.6,216.9 527.0,215.0C528.4,213.1 530.4,208.8 532.0,207.0C533.6,205.2 536.4,205.1 538.0,203.0C539.6,200.9 541.6,194.9 543.0,193.0C544.4,191.1 546.0,189.2 547.0,190.0C548.0,190.8 548.8,196.5 550.0,198.0C551.2,199.5 553.5,199.7 555.0,200.0C556.5,200.3 558.8,197.8 560.0,200.0C561.2,202.2 562.1,210.9 563.0,215.0C563.9,219.1 565.1,225.7 566.0,227.0C566.9,228.3 568.1,226.8 569.0,224.0C569.9,221.2 571.0,212.5 572.0,208.0C573.0,203.5 574.8,197.9 576.0,194.0C577.2,190.1 578.8,185.8 580.0,182.0C581.2,178.2 583.0,170.5 584.0,169.0C585.0,167.5 586.0,170.3 587.0,172.0C588.0,173.7 589.8,178.2 591.0,180.0C592.2,181.8 593.6,183.7 595.0,184.0C596.4,184.3 598.4,181.7 600.0,182.0C601.6,182.3 605.1,185.4 606.0,186.0" stroke="#6574ea" stroke-width="1.25"/>
</g>
<g filter="url(#soft)">
<rect x="742.8" y="9" width="48" height="442.5" fill="#fff"/>
<rect x="0" y="428" width="790" height="23.5" fill="#fff"/>
<path d="M742,8V451.5" stroke="#888b95" stroke-width="1.8"/>
<path d="M0,428.3H790" stroke="#878a94" stroke-width="2"/>
<text opacity="0.55" x="748.4" y="40.8" font-size="10.2" fill="#484b56" stroke="#484b56" stroke-width="0.2" textLength="32.5" lengthAdjust="spacingAndGlyphs">1,200.00</text>
<text x="748.4" y="69.9" font-size="10.2" fill="#484b56" stroke="#484b56" stroke-width="0.2" textLength="25.4" lengthAdjust="spacingAndGlyphs">700.00</text>
<text x="748.4" y="129.9" font-size="10.2" fill="#484b56" stroke="#484b56" stroke-width="0.2" textLength="25.4" lengthAdjust="spacingAndGlyphs">225.00</text>
<text x="748.4" y="161.5" font-size="10.2" fill="#484b56" stroke="#484b56" stroke-width="0.2" textLength="25.4" lengthAdjust="spacingAndGlyphs">125.00</text>
<text x="748.4" y="216.0" font-size="10.2" fill="#484b56" stroke="#484b56" stroke-width="0.2" textLength="21.2" lengthAdjust="spacingAndGlyphs">45.00</text>
<text x="748.4" y="247.9" font-size="10.2" fill="#484b56" stroke="#484b56" stroke-width="0.2" textLength="21.2" lengthAdjust="spacingAndGlyphs">25.00</text>
<text x="748.4" y="274.4" font-size="10.2" fill="#484b56" stroke="#484b56" stroke-width="0.2" textLength="21.2" lengthAdjust="spacingAndGlyphs">15.00</text>
<text x="748.4" y="301.3" font-size="10.2" fill="#484b56" stroke="#484b56" stroke-width="0.2" textLength="17.0" lengthAdjust="spacingAndGlyphs">9.00</text>
<text x="748.4" y="333.3" font-size="10.2" fill="#484b56" stroke="#484b56" stroke-width="0.2" textLength="17.0" lengthAdjust="spacingAndGlyphs">5.00</text>
<text x="748.4" y="360.3" font-size="10.2" fill="#484b56" stroke="#484b56" stroke-width="0.2" textLength="17.0" lengthAdjust="spacingAndGlyphs">3.00</text>
<text x="748.4" y="387.2" font-size="10.2" fill="#484b56" stroke="#484b56" stroke-width="0.2" textLength="17.0" lengthAdjust="spacingAndGlyphs">1.80</text>
<text x="748.4" y="413.7" font-size="10.2" fill="#484b56" stroke="#484b56" stroke-width="0.2" textLength="17.0" lengthAdjust="spacingAndGlyphs">1.10</text>
<rect x="743.2" y="9" width="46.8" height="29.6" fill="#fff"/>
<rect x="745.6" y="12.3" width="40.6" height="22" rx="3.5" fill="#fff" stroke="#e2e4eb" stroke-width="1.3"/>
<text x="748.2" y="27.6" font-size="11.8" font-weight="bold" fill="#2a2d38" textLength="15.8" lengthAdjust="spacingAndGlyphs">USD</text>
<path d="M778.9,22.9L780.9,24.8L782.9,22.9" stroke="#2a2d38" stroke-width="1.7" fill="none" stroke-linecap="round" stroke-linejoin="round"/>
<rect x="742.6" y="88.6" width="35.2" height="13.6" fill="#2e1a6e" rx="1"/>
<text x="748.4" y="99.2" font-size="10.6" font-weight="bold" fill="#fff" textLength="25.4" lengthAdjust="spacingAndGlyphs">403.31</text>
<rect x="742.6" y="162.9" width="30.8" height="14.6" fill="#2b2bff" rx="1"/>
<text x="748.4" y="174.0" font-size="10.6" font-weight="bold" fill="#fff" textLength="21.4" lengthAdjust="spacingAndGlyphs">78.03</text>
<rect x="742.6" y="178.2" width="30.8" height="14.4" fill="#ef5350" rx="1"/>
<text x="748.4" y="189.2" font-size="10.6" font-weight="bold" fill="#fff" textLength="21.4" lengthAdjust="spacingAndGlyphs">75.41</text>
<rect x="742.6" y="192.4" width="30.8" height="14.4" fill="#2962ff" rx="1"/>
<text x="748.4" y="203.4" font-size="10.6" font-weight="bold" fill="#fff" textLength="21.4" lengthAdjust="spacingAndGlyphs">69.89</text>
<rect x="712" y="177.9" width="28.8" height="14.6" fill="#ef5350" rx="1"/>
<text x="715" y="189.0" font-size="11.2" font-weight="bold" fill="#fff" textLength="22.4" lengthAdjust="spacingAndGlyphs">USOIL</text>
<text x="-8.3" y="443.4" font-size="10.4" fill="#4a4d58" stroke="#4a4d58" stroke-width="0.3" textLength="19.6" lengthAdjust="spacingAndGlyphs">1955</text>
<text x="54.3" y="443.4" font-size="10.4" fill="#4a4d58" stroke="#4a4d58" stroke-width="0.3" textLength="19.6" lengthAdjust="spacingAndGlyphs">1964</text>
<text x="111.6" y="443.4" font-size="10.4" fill="#4a4d58" stroke="#4a4d58" stroke-width="0.3" textLength="19.6" lengthAdjust="spacingAndGlyphs">1972</text>
<text x="174.1" y="443.4" font-size="10.4" fill="#4a4d58" stroke="#4a4d58" stroke-width="0.3" textLength="19.6" lengthAdjust="spacingAndGlyphs">1981</text>
<text x="236.9" y="443.4" font-size="10.4" fill="#4a4d58" stroke="#4a4d58" stroke-width="0.3" textLength="19.6" lengthAdjust="spacingAndGlyphs">1988</text>
<text x="295.8" y="443.4" font-size="10.4" fill="#4a4d58" stroke="#4a4d58" stroke-width="0.3" textLength="19.6" lengthAdjust="spacingAndGlyphs">1994</text>
<text x="354.7" y="443.4" font-size="10.4" fill="#4a4d58" stroke="#4a4d58" stroke-width="0.3" textLength="19.6" lengthAdjust="spacingAndGlyphs">2000</text>
<text x="413.7" y="443.4" font-size="10.4" fill="#4a4d58" stroke="#4a4d58" stroke-width="0.3" textLength="19.6" lengthAdjust="spacingAndGlyphs">2006</text>
<text x="472.6" y="443.4" font-size="10.4" fill="#4a4d58" stroke="#4a4d58" stroke-width="0.3" textLength="19.6" lengthAdjust="spacingAndGlyphs">2012</text>
<text x="531.7" y="443.4" font-size="10.4" fill="#4a4d58" stroke="#4a4d58" stroke-width="0.3" textLength="19.6" lengthAdjust="spacingAndGlyphs">2018</text>
<text x="590.6" y="443.4" font-size="10.4" fill="#4a4d58" stroke="#4a4d58" stroke-width="0.3" textLength="19.6" lengthAdjust="spacingAndGlyphs">2024</text>
<text x="649.1" y="443.4" font-size="10.4" fill="#4a4d58" stroke="#4a4d58" stroke-width="0.3" textLength="19.6" lengthAdjust="spacingAndGlyphs">2030</text>
<text x="708.0" y="443.4" font-size="10.4" fill="#4a4d58" stroke="#4a4d58" stroke-width="0.3" textLength="19.6" lengthAdjust="spacingAndGlyphs">2036</text>
<polygon points="771.9,440.2 769.0,445.3 763.0,445.3 760.1,440.2 763.0,435.1 769.0,435.1" fill="none" stroke="#5d606b" stroke-width="1.2" stroke-linejoin="round"/>
<circle cx="766" cy="440.2" r="2.3" fill="#a3a5ad" stroke="#6b6e79" stroke-width="1"/>
</g>
<rect x="788.7" y="8.6" width="1.3" height="444.4" fill="#eceef4"/>
<rect x="0" y="451.2" width="790" height="1.8" fill="#eaecf2"/>
<g filter="url(#soft)">
<ellipse cx="11.8" cy="22.7" rx="6.9" ry="7.2" fill="#111"/>
<path d="M11.8,17.6C12.9,19.8 14.5,22.2 14.5,24.4A2.7,2.9 0 0 1 9.1,24.4C9.1,22.2 10.7,19.8 11.8,17.6Z" fill="#fff"/>
<text x="20.6" y="27.6" font-size="14.6" fill="#4a4d57" stroke="#4a4d57" stroke-width="0.3" textLength="115" lengthAdjust="spacingAndGlyphs">CFDs on WTI Crude Oil</text>
<circle cx="141.3" cy="23.4" r="1.3" fill="#4a4d57"/>
<text x="145.7" y="27.6" font-size="14.6" fill="#4a4d57" stroke="#4a4d57" stroke-width="0.3" textLength="13.5" lengthAdjust="spacingAndGlyphs">1M</text>
<circle cx="163.3" cy="23.4" r="1.3" fill="#4a4d57"/>
<text x="168.3" y="27.6" font-size="14.6" fill="#4a4d57" stroke="#4a4d57" stroke-width="0.3" textLength="18.8" lengthAdjust="spacingAndGlyphs">TVC</text>
<path d="M205.1,16.5H212.9V29.3H205.1A6.4,6.4 0 0 1 205.1,16.5Z" fill="#eaebef"/>
<path d="M212.9,16.5H220.2A6.4,6.4 0 0 1 220.2,29.3H212.9Z" fill="#fce0e8"/>
<rect x="203.2" y="21.4" width="6.6" height="2.8" rx="1.2" fill="#868994"/>
<path d="M216,22.2C217.3,20.6 218.5,20.6 219.5,21.6S221.7,22.6 223,21M216,25.6C217.3,24 218.5,24 219.5,25S221.7,26 223,24.4" stroke="#e3295f" stroke-width="1.2" fill="none" stroke-linecap="round"/>
<text x="238.6" y="27.6" font-size="10.4" fill="#f0524f" stroke="#f0524f" stroke-width="0.25" textLength="59.8" lengthAdjust="spacingAndGlyphs">−3.14 (−3.99%)</text>
</g>
<g filter="url(#soft)" stroke="#1f18ff" stroke-width="1.85" fill="none" stroke-linecap="round" stroke-linejoin="round">
<path d="M325.8,47H329.6M336.9,47H340.6M327.6,47L330.5,62.6L333.2,51.5L335.9,62.6L338.9,47"/>
<path d="M342.2,50.2V47H354.2V50.2M348.2,47V62.6M345,62.6H351.4"/>
<path d="M360,47H369.6M364.8,47V62.6M360,62.6H369.6"/>
<ellipse cx="388.6" cy="48.9" rx="3.3" ry="2.9"/>
<path d="M382.3,55.3L394,53.4M388.8,54.3V58.2M396.8,43.8V59.8M393.2,50.4H396.8M389,58.6L389.5,64.2H398.4"/>
<ellipse cx="417.2" cy="48.6" rx="4.1" ry="3.6"/>
<path d="M407,56.7L426.2,55.2M413.6,56.2V64.9M421.6,55.6V64.9"/>
<path d="M440.5,49.5L448.5,48.5C447.8,53 443.5,57 438.3,59.2M454.3,43.8V64.9M454.3,54L460.9,53.3"/>
<path d="M464.5,47.5L471.1,46.7C470.5,50.5 467.5,53.4 463.8,55.2M478.6,43.8V57.7M471.8,49.4L478.6,48.9M471.1,53.3L478.6,52.6M466.7,58.5L478.6,57.7V64.9"/>
</g>
<g filter="url(#soft)">
<ellipse cx="606.2" cy="416.7" rx="7.1" ry="8.6" fill="#fff" stroke="#b344ca" stroke-width="1.8"/>
<path d="M608.1,412L603.5,417.3H606L604.3,421.8L609,416.3H606.5Z" fill="#a92fc2" stroke="#a92fc2" stroke-width="0.7" stroke-linejoin="round"/>
</g>
<g filter="url(#soft)" fill="#16181f">
<path d="M6.9,402.9H16.9V415.6H10.9V409H6.9Z"/>
<circle cx="20.1" cy="405" r="2"/>
<path d="M23.9,402.9H29.1L24.2,415.6H19Z"/>
<text x="33.9" y="415.6" font-size="17.7" font-weight="bold" textLength="85.8" lengthAdjust="spacingAndGlyphs">TradingView</text>
</g>
</svg></body></html>
